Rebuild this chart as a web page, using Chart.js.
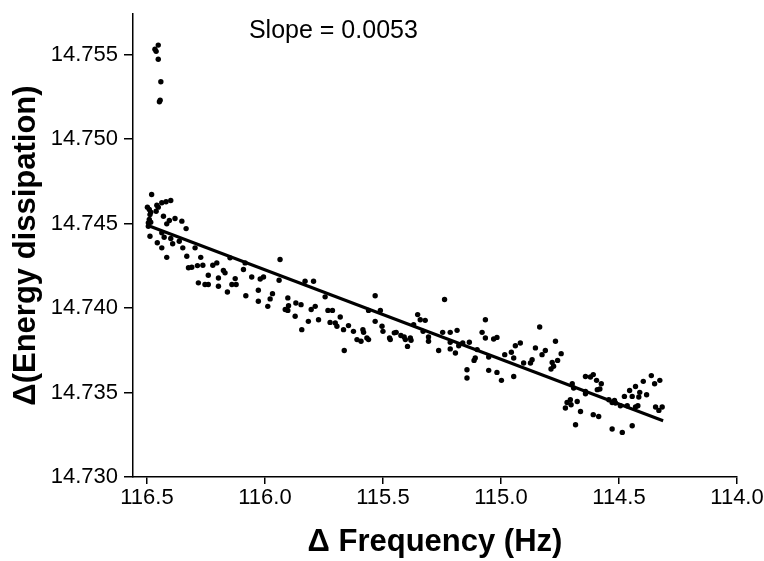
<!DOCTYPE html>
<html>
<head>
<meta charset="utf-8">
<script src="https://cdn.jsdelivr.net/npm/chart.js@4.4.1/dist/chart.umd.min.js"></script>
<style>
  html, body { margin: 0; padding: 0; background: #fff; }
  #wrap { width: 764px; height: 561px; }
</style>
</head>
<body>
<div id="wrap"><canvas id="chart" width="764" height="561"></canvas></div>
<script>
const freqHz = [
  116.452, 116.466, 116.461, 116.452, 116.441, 116.444, 116.447,
  116.480, 116.498, 116.490, 116.484, 116.487, 116.490, 116.484, 116.494, 116.494,
  116.458, 116.452, 116.437, 116.419, 116.399, 116.461, 116.430, 116.405, 116.381,
  116.416, 116.352, 116.334, 116.487, 116.437, 116.427, 116.399, 116.391, 116.363,
  116.456, 116.437, 116.348, 116.296, 116.416, 116.331, 116.272, 116.324, 116.310,
  116.286, 116.263, 116.221, 116.204, 116.176, 116.169, 116.240, 116.197, 116.282,
  116.254, 116.240, 116.197, 116.140, 116.122, 116.126, 116.159, 116.084, 116.148,
  115.936, 116.091, 116.056, 116.020, 116.006, 115.940, 115.830, 115.794, 116.081,
  116.028, 116.028, 115.978, 115.968, 115.988, 115.903, 115.900, 115.914, 115.903,
  115.869, 115.847, 115.872, 115.804, 115.787, 115.745, 115.733, 115.714, 115.816,
  115.773, 115.844, 115.724, 115.533, 115.702, 115.695, 115.681, 115.667, 115.646,
  115.625, 115.610, 115.593, 115.585, 115.582, 115.568, 115.561, 115.664, 115.561,
  115.511, 115.533, 115.504, 115.500, 115.472, 115.469, 115.452, 115.444, 115.424,
  115.410, 115.405, 115.384, 115.381, 115.396, 115.353, 115.342, 115.321, 115.370,
  115.330, 115.307, 115.307, 115.239, 115.264, 115.247, 115.215, 115.186, 115.215,
  115.215, 115.193, 115.179, 115.162, 115.134, 115.109, 115.114, 115.101, 115.144,
  115.144, 115.066, 115.080, 115.066, 115.031, 115.017, 115.052, 115.052, 115.017,
  114.998, 114.984, 114.956, 114.946, 114.939, 114.918, 114.904, 114.946, 114.836,
  114.854, 114.812, 114.769, 114.745, 114.826, 114.868, 114.875, 114.783, 114.777,
  114.760, 114.788, 114.698, 114.692, 114.642, 114.621, 114.609, 114.595, 114.575,
  114.581, 114.592, 114.642, 114.642, 114.706, 114.720, 114.677, 114.703, 114.727,
  114.663, 114.609, 114.586, 114.684, 114.543, 114.529, 114.519, 114.529, 114.363,
  114.327, 114.397, 114.349, 114.430, 114.455, 114.412, 114.383, 114.477, 114.444,
  114.416, 114.465, 114.420, 114.345, 114.317, 114.331, 114.486, 114.444, 114.515,
  114.494, 114.430
];
const energy = [
  14.75556, 14.75531, 14.75519, 14.75472, 14.75339, 14.75230, 14.75221,
  14.74672, 14.74597, 14.74583, 14.74567, 14.74553, 14.74524, 14.74508, 14.74484, 14.74504,
  14.74608, 14.74597, 14.74623, 14.74629, 14.74636, 14.74573, 14.74543, 14.74518, 14.74530,
  14.74498, 14.74514, 14.74470, 14.74425, 14.74445, 14.74419, 14.74411, 14.74380, 14.74395,
  14.74386, 14.74356, 14.74356, 14.74356, 14.74300, 14.74306, 14.74300, 14.74238, 14.74241,
  14.74251, 14.74253, 14.74253, 14.74267, 14.74222, 14.74208, 14.74194, 14.74178, 14.74149,
  14.74139, 14.74139, 14.74129, 14.74139, 14.74139, 14.74174, 14.74095, 14.74267, 14.74297,
  14.74287, 14.74228, 14.74184, 14.74172, 14.74184, 14.74164, 14.74158, 14.74158, 14.74073,
  14.74105, 14.74040, 14.74054, 14.74085, 14.74010, 14.74060, 14.74014, 14.73991, 14.73986,
  14.74030, 14.74020, 14.73951, 14.73991, 14.74010, 14.74066, 14.73986, 14.73986, 14.73921,
  14.73931, 14.73872, 14.73915, 14.74073, 14.73912, 14.73892, 14.73947, 14.73872, 14.73896,
  14.73862, 14.73813, 14.73803, 14.73872, 14.73856, 14.73823, 14.73813, 14.73749, 14.73986,
  14.73986, 14.73921, 14.73892, 14.73862, 14.73823, 14.73813, 14.73853, 14.73856, 14.73837,
  14.73829, 14.73813, 14.73823, 14.73809, 14.73773, 14.73961, 14.73931, 14.73927, 14.73902,
  14.73862, 14.73829, 14.73803, 14.74050, 14.73749, 14.73856, 14.73856, 14.73868, 14.73797,
  14.73758, 14.73734, 14.73777, 14.73793, 14.73797, 14.73704, 14.73690, 14.73754, 14.73635,
  14.73586, 14.73931, 14.73856, 14.73823, 14.73817, 14.73826, 14.73710, 14.73631, 14.73619,
  14.73572, 14.73724, 14.73738, 14.73704, 14.73777, 14.73793, 14.73675, 14.73595, 14.73888,
  14.73764, 14.73749, 14.73803, 14.73730, 14.73724, 14.73694, 14.73675, 14.73678, 14.73655,
  14.73690, 14.73639, 14.73552, 14.73527, 14.73595, 14.73592, 14.73606, 14.73572, 14.73552,
  14.73521, 14.73517, 14.73507, 14.73493, 14.73457, 14.73441, 14.73447, 14.73428, 14.73408,
  14.73388, 14.73369, 14.73358, 14.73309, 14.73457, 14.73441, 14.73453, 14.73284, 14.73600,
  14.73572, 14.73566, 14.73552, 14.73536, 14.73512, 14.73501, 14.73487, 14.73477, 14.73477,
  14.73473, 14.73422, 14.73422, 14.73414, 14.73414, 14.73394, 14.73264, 14.73303, 14.73438,
  14.73422, 14.73414
];

// linear fit end points
const fitFreq = [116.487, 114.313];
const fitEnergy = [14.74484, 14.73333];

const xTicks = [116.5, 116.0, 115.5, 115.0, 114.5, 114.0];
const yTicks = [14.730, 14.735, 14.740, 14.745, 14.750, 14.755];
const slopeText = 'Slope = 0.0053';

Chart.defaults.font.family = '"Liberation Sans", Arial, sans-serif';
Chart.defaults.color = '#000';

const slopeLabel = {
  id: 'slopeLabel',
  afterDraw(chart) {
    const { ctx, scales } = chart;
    ctx.save();
    ctx.font = '25px "Liberation Sans", Arial, sans-serif';
    ctx.fillStyle = '#000';
    ctx.textAlign = 'center';
    ctx.textBaseline = 'alphabetic';
    ctx.fillText(slopeText, scales.x.getPixelForValue(115.71), 38);
    ctx.restore();
  }
};

const axisGrid = { drawOnChartArea: false, drawTicks: true, color: '#000', lineWidth: 1.5 };

new Chart(document.getElementById('chart'), {
  type: 'scatter',
  data: {
    datasets: [
      {
        data: freqHz.map((x, i) => ({ x, y: energy[i] })),
        backgroundColor: '#000',
        borderWidth: 0,
        pointRadius: 2.7,
        pointHoverRadius: 2.7
      },
      {
        type: 'line',
        data: fitFreq.map((x, i) => ({ x, y: fitEnergy[i] })),
        borderColor: '#000',
        borderWidth: 3,
        pointRadius: 0,
        fill: false
      }
    ]
  },
  options: {
    responsive: false,
    animation: false,
    layout: { padding: { left: 0, top: 14, right: 27, bottom: 0 } },
    plugins: { legend: { display: false }, tooltip: { enabled: false } },
    scales: {
      x: {
        type: 'linear',
        reverse: true,
        min: 114.0,
        max: 116.559,
        border: { color: '#000', width: 1.5 },
        grid: { ...axisGrid, tickLength: 7 },
        ticks: {
          font: { size: 22 },
          padding: 1,
          autoSkip: false,
          maxRotation: 0,
          callback: v => v.toFixed(1)
        },
        afterBuildTicks: s => { s.ticks = xTicks.map(v => ({ value: v })); },
        afterFit: s => { s.height = 84; s.paddingLeft = 0; s.paddingRight = 0; },
        title: {
          display: true,
          text: 'Δ Frequency (Hz)',
          font: { size: 31, weight: 'bold' },
          padding: { top: 0, bottom: 0 }
        }
      },
      y: {
        type: 'linear',
        min: 14.730,
        max: 14.7574,
        border: { color: '#000', width: 1.5 },
        grid: { ...axisGrid, tickLength: 9 },
        ticks: {
          font: { size: 22 },
          padding: 6,
          autoSkip: false,
          callback: v => v.toFixed(3)
        },
        afterBuildTicks: s => { s.ticks = yTicks.map(v => ({ value: v })); },
        afterFit: s => { s.width = 133; s.paddingTop = 0; s.paddingBottom = 0; },
        title: {
          display: true,
          text: 'Δ(Energy dissipation)',
          font: { size: 31, weight: 'bold' },
          padding: { top: 8, bottom: 0 }
        }
      }
    }
  },
  plugins: [slopeLabel]
});
</script>
</body>
</html>
